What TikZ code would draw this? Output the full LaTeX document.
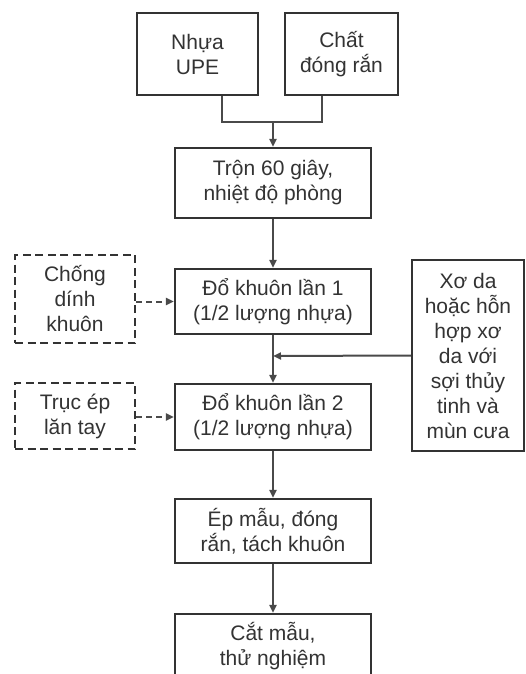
\documentclass[tikz,border=0pt]{standalone}
\usepackage{fontspec}
\setmainfont{Liberation Sans}
\usetikzlibrary{arrows.meta,calc}
\definecolor{ink}{HTML}{333333}
\definecolor{edge}{HTML}{4A4A4A}
\begin{document}
\begin{tikzpicture}[x=1pt,y=-1pt,
  box/.style={draw=ink, line width=2.2pt, fill=white, text=ink, align=center,
    inner sep=0pt, font=\fontsize{21}{25}\selectfont},
  dbox/.style={box, dashed, dash pattern=on 8pt off 4.5pt},
  conn/.style={draw=edge, line width=2pt},
  arr/.style={conn, -{Triangle[length=8pt,width=7pt]}},
  darr/.style={arr, dash pattern=on 6pt off 4pt}]
\useasboundingbox (0,0) rectangle (525,674);
\clip (0,0) rectangle (525,674);
\fill[white] (0,0) rectangle (525,674);

\node[box, minimum width=121pt, minimum height=82pt] (upe) at (197.5,54) {Nhựa\\UPE};
\node[box, minimum width=113pt, minimum height=82pt] (cdr) at (341.5,54) {Chất\\đóng rắn};
\node[box, minimum width=196pt, minimum height=70pt] (tron) at (273,183) {Trộn 60 giây,\\nhiệt độ phòng};
\node[box, minimum width=196pt, minimum height=65pt] (do1) at (273,301.5) {Đổ khuôn lần 1\\(1/2 lượng nhựa)};
\node[box, minimum width=196pt, minimum height=66pt] (do2) at (273,417) {Đổ khuôn lần 2\\(1/2 lượng nhựa)};
\node[box, minimum width=196pt, minimum height=64pt] (ep) at (273,531) {Ép mẫu, đóng\\rắn, tách khuôn};
\node[box, minimum width=196pt, minimum height=64pt] (cat) at (273,646) {Cắt mẫu,\\thử nghiệm};
\node[dbox, minimum width=120pt, minimum height=88pt] (chong) at (75,299) {Chống\\dính\\khuôn};
\node[dbox, minimum width=120pt, minimum height=66pt] (truc) at (75,416) {Trục ép\\lăn tay};
\node[box, minimum width=112pt, minimum height=191pt] (xo) at (468,355.5) {Xơ da\\hoặc hỗn\\hợp xơ\\da với\\sợi thủy\\tinh và\\mùn cưa};

\coordinate (j1) at (273,122);
\coordinate (j2) at (273,356);

\draw[conn] ([xshift=24.5pt]upe.south) |- (j1);
\draw[conn] ([xshift=-19.5pt]cdr.south) |- (j1);
\draw[arr] (j1) -- (tron.north);
\draw[arr] (tron.south) -- (do1.north);
\draw[arr] (do1.south) -- (do2.north);
\draw[arr] (xo.west) -- (j2);
\draw[darr] (chong.east |- do1.west) -- (do1.west);
\draw[darr] (truc.east |- do2.west) -- (do2.west);
\draw[arr] (do2.south) -- (ep.north);
\draw[arr] (ep.south) -- (cat.north);
\end{tikzpicture}
\end{document}
